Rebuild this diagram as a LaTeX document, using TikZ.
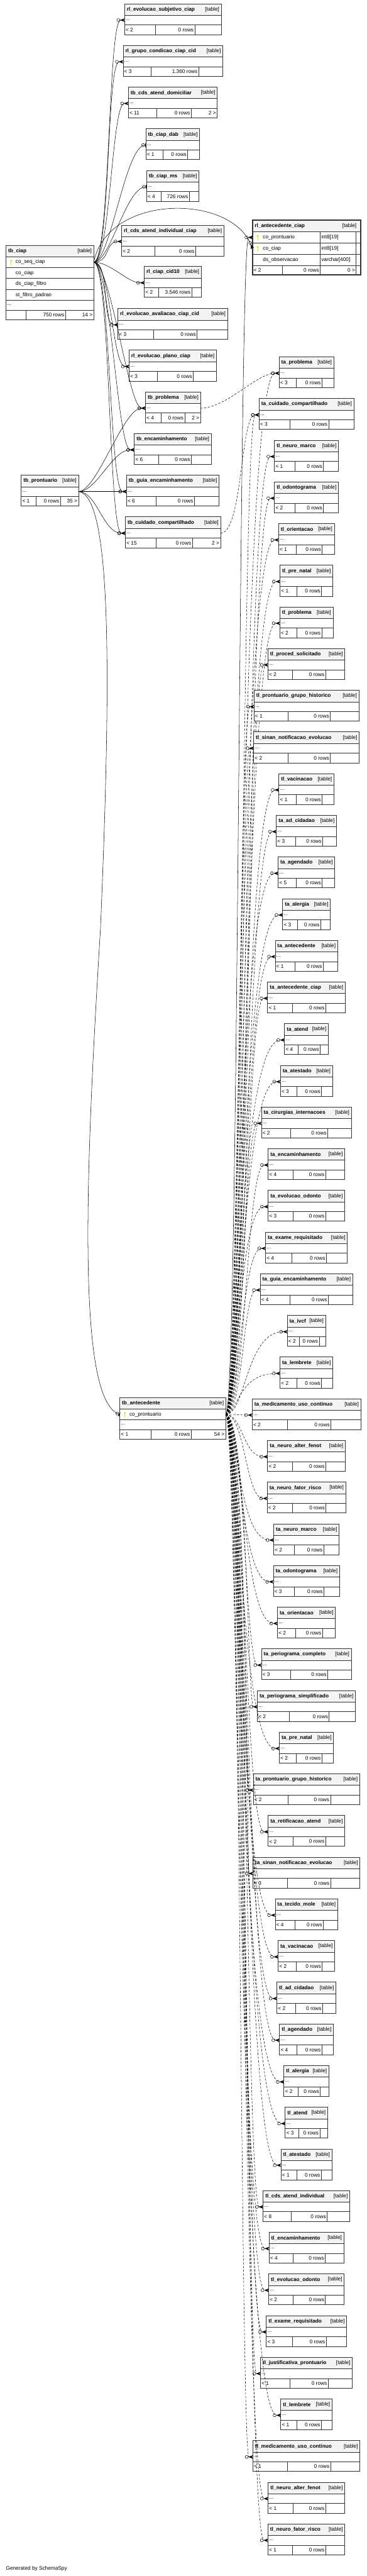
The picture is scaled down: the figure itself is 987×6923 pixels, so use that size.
\documentclass[tikz,border=0pt]{standalone}
\usepackage{fontspec}
\setmainfont{Liberation Sans}
\usetikzlibrary{arrows.meta}

\definecolor{tabline}{HTML}{333333}
\definecolor{hdrfill}{HTML}{F4F4F4}
\definecolor{keyyellow}{HTML}{E2E200}

\tikzset{
  hdrbox/.style={draw=tabline, fill=hdrfill, line width=1.1pt, minimum height=31, inner sep=0pt, outer sep=0pt},
  rowbox/.style={draw=tabline, fill=white, line width=1.1pt, minimum height=26, inner sep=0pt, outer sep=0pt},
  lbl/.style={inner sep=3pt, font=\fontsize{14}{16}\selectfont},
  ttl/.style={inner sep=3pt, font=\fontsize{14}{16}\selectfont\bfseries},
  divline/.style={draw=tabline, line width=1.1pt},
  fk/.style={line width=0.9pt, -{Circle[open,length=9pt,width=9pt]Stealth[reversed,length=12pt,width=9pt,inset=2.5pt]}},
  fkone/.style={line width=0.9pt, -{Circle[open,length=9pt,width=9pt]Bar[width=10pt,line width=2.4pt]}},
  implied/.style={fk, dash pattern=on 6pt off 4pt},
}

\newcommand{\ftcells}[3]{\def\fta{#1}\def\ftb{#2}\def\ftc{#3}}
% folded table: name, title, left, top, width, divider 1, divider 2, {footer cells}
\newcommand{\ertable}[8]{%
  \ftcells#8%
  \node[hdrbox, minimum width=#5, anchor=north west] (#1) at (#3,#4) {};
  \node[ttl, anchor=west] at ([xshift=3pt]#1.west) {#2};
  \node[lbl, anchor=east] at ([xshift=-2pt]#1.east) {[table]};
  \node[rowbox, minimum width=#5, anchor=north west] (#1-r) at (#1.south west) {};
  \node[lbl, anchor=west] at (#1-r.west) {...};
  \node[rowbox, minimum width=#5, anchor=north west] (#1-f) at (#1-r.south west) {};
  \draw[divline] (#6,#4+57) -- (#6,#4+83) (#7,#4+57) -- (#7,#4+83);
  \node[lbl, anchor=west] at (#1-f.west) {\fta};
  \node[lbl, anchor=east] at (#7,#4+70) {\ftb};
  \node[lbl, anchor=east] at (#1-f.east) {\ftc};
}
\newcommand{\pkkey}[1]{%
  \fill[keyyellow] ([xshift=14pt,yshift=4pt]#1.west) circle (2.8pt);
  \draw[keyyellow, line width=1.7pt] ([xshift=14pt,yshift=3pt]#1.west) -- ([xshift=14pt,yshift=-8pt]#1.west);
}

\begin{document}
\catcode`\_=12
\begin{tikzpicture}[x=1pt, y=-1pt]
  \fill[white] (0,0) rectangle (987,6923);
  \useasboundingbox (0,0) rectangle (987,6923);

  % tb_ciap
  \node[hdrbox, minimum width=236, anchor=north west] (ciap) at (16,659) {};
  \node[ttl, anchor=west] at ([xshift=3pt]ciap.west) {tb_ciap};
  \node[lbl, anchor=east] at ([xshift=-2pt]ciap.east) {[table]};
  \node[rowbox, minimum width=236, minimum height=29, anchor=north west] (ciap-pk) at (ciap.south west) {};
  \node[lbl, anchor=west] at ([xshift=23pt]ciap-pk.west) {co_seq_ciap};
  \pkkey{ciap-pk}
  \node[rowbox, minimum width=236, minimum height=29, anchor=north west] (ciap-2) at (ciap-pk.south west) {};
  \node[lbl, anchor=west] at ([xshift=23pt]ciap-2.west) {co_ciap};
  \node[rowbox, minimum width=236, minimum height=30, anchor=north west] (ciap-3) at (ciap-2.south west) {};
  \node[lbl, anchor=west] at ([xshift=23pt]ciap-3.west) {ds_ciap_filtro};
  \node[rowbox, minimum width=236, minimum height=29, anchor=north west] (ciap-4) at (ciap-3.south west) {};
  \node[lbl, anchor=west] at ([xshift=23pt]ciap-4.west) {st_filtro_padrao};
  \node[rowbox, minimum width=236, minimum height=27, anchor=north west] (ciap-r) at (ciap-4.south west) {};
  \node[lbl, anchor=west] at (ciap-r.west) {...};
  \node[rowbox, minimum width=236, minimum height=25, anchor=north west] (ciap-f) at (ciap-r.south west) {};
  \draw[divline] (70,834) -- (70,859) (176,834) -- (176,859);
  \node[lbl, anchor=east] at (176,846.5) {750 rows};
  \node[lbl, anchor=east] at (ciap-f.east) {14 >};

  % middle column
  \ertable{evosubj}{rl_evolucao_subjetivo_ciap}{335}{10}{260}{418}{524}{{< 2}{0 rows}{}}
  \ertable{grupocond}{rl_grupo_condicao_ciap_cid}{331}{122}{268}{407}{534.5}{{< 3}{1.360 rows}{}}
  \ertable{cdsdom}{tb_cds_atend_domiciliar}{345}{234}{239}{422}{514}{{< 11}{0 rows}{2 >}}
  \ertable{ciapdab}{tb_ciap_dab}{392}{346}{145}{438}{505}{{< 1}{0 rows}{}}
  \ertable{ciapms}{tb_ciap_ms}{394}{458}{141}{433}{509}{{< 4}{726 rows}{}}
  \ertable{cdsind}{rl_cds_atend_individual_ciap}{327}{605}{275}{416}{526.5}{{< 2}{0 rows}{}}
  \ertable{ciapcid}{rl_ciap_cid10}{388}{716}{153}{427}{515.6}{{< 2}{3.546 rows}{}}
  \ertable{evoaval}{rl_evolucao_avaliacao_ciap_cid}{317}{829}{295}{413}{530}{{< 3}{0 rows}{}}
  \ertable{evoplano}{rl_evolucao_plano_ciap}{347}{941}{235}{423}{520}{{< 3}{0 rows}{}}
  \ertable{problema}{tb_problema}{391}{1053}{148}{432.5}{496.7}{{< 4}{0 rows}{2 >}}
  \ertable{encam}{tb_encaminhamento}{361}{1165}{207}{427}{515}{{< 6}{0 rows}{}}
  \ertable{guia}{tb_guia_encaminhamento}{340}{1277}{249}{420}{522.5}{{< 6}{0 rows}{}}
  \ertable{cuidado}{tb_cuidado_compartilhado}{337}{1389}{256}{419.6}{517.3}{{< 15}{0 rows}{2 >}}

  \ertable{prontuario}{tb_prontuario}{57}{1277}{154}{97.6}{162.4}{{< 1}{0 rows}{35 >}}

  % rl_antecedente_ciap
  \node[hdrbox, minimum width=291, minimum height=32, anchor=north west] (antciap) at (679,591) {};
  \node[ttl, anchor=west] at ([xshift=3pt]antciap.west) {rl_antecedente_ciap};
  \node[lbl, anchor=east] at ([xshift=-8pt]antciap.east) {[table]};
  \node[rowbox, minimum width=291, minimum height=30, anchor=north west] (antciap-1) at (antciap.south west) {};
  \node[lbl, anchor=west] at ([xshift=25pt]antciap-1.west) {co_prontuario};
  \node[lbl, anchor=west] at (861,638) {int8[19]};
  \pkkey{antciap-1}
  \node[rowbox, minimum width=291, minimum height=30, anchor=north west] (antciap-2) at (antciap-1.south west) {};
  \node[lbl, anchor=west] at ([xshift=25pt]antciap-2.west) {co_ciap};
  \node[lbl, anchor=west] at (861,668) {int8[19]};
  \pkkey{antciap-2}
  \node[rowbox, minimum width=291, minimum height=30, anchor=north west] (antciap-3) at (antciap-2.south west) {};
  \node[lbl, anchor=west] at ([xshift=25pt]antciap-3.west) {ds_observacao};
  \node[lbl, anchor=west] at (861,698) {varchar[400]};
  \node[rowbox, minimum width=291, minimum height=26, anchor=north west] (antciap-f) at (antciap-3.south west) {};
  \draw[divline] (861,623) -- (861,713) (958,623) -- (958,739) (760,713) -- (760,739) (861,713) -- (861,739);
  \node[lbl, anchor=west] at (antciap-f.west) {< 2};
  \node[lbl, anchor=east] at (861,726) {0 rows};
  \node[lbl, anchor=east] at (958,726) {0 >};
  \draw[tabline, line width=3pt] (679,591) rectangle (970,739);

  % tb_antecedente
  \node[hdrbox, minimum width=285, anchor=north west] (antecedente) at (322,3756) {};
  \node[ttl, anchor=west] at ([xshift=3pt]antecedente.west) {tb_antecedente};
  \node[lbl, anchor=east] at ([xshift=-2pt]antecedente.east) {[table]};
  \node[rowbox, minimum width=285, minimum height=29, anchor=north west] (antecedente-pk) at (antecedente.south west) {};
  \node[lbl, anchor=west] at ([xshift=23pt]antecedente-pk.west) {co_prontuario};
  \pkkey{antecedente-pk}
  \node[rowbox, minimum width=285, anchor=north west] (antecedente-r) at (antecedente-pk.south west) {};
  \node[lbl, anchor=west] at (antecedente-r.west) {...};
  \node[rowbox, minimum width=285, anchor=north west] (antecedente-f) at (antecedente-r.south west) {};
  \draw[divline] (407,3842) -- (407,3868) (514,3842) -- (514,3868);
  \node[lbl, anchor=west] at (antecedente-f.west) {< 1};
  \node[lbl, anchor=east] at (514,3855) {0 rows};
  \node[lbl, anchor=east] at (antecedente-f.east) {54 >};

  % right column
  \foreach \tn/\tw/\tc [count=\i] in {
    ta_problema/147/3, ta_cuidado_compartilhado/255/3, tl_neuro_marco/172/1,
    tl_odontograma/172/2, tl_orientacao/150/1, tl_pre_natal/142/1,
    tl_problema/143/2, tl_proced_solicitado/207/2, tl_prontuario_grupo_historico/282/1,
    tl_sinan_notificacao_evolucao/284/2, tl_vacinacao/148/1, ta_ad_cidadao/162/3,
    ta_agendado/152/5, ta_alergia/128/3, ta_antecedente/168/1,
    ta_antecedente_ciap/209/1, ta_atend/118/4, ta_atestado/140/3,
    ta_cirurgias_internacoes/242/2, ta_encaminhamento/206/4, ta_evolucao_odonto/206/3,
    ta_exame_requisitado/220/4, ta_guia_encaminhamento/249/4, ta_ivcf/103/2,
    ta_lembrete/142/2, ta_medicamento_uso_continuo/292/2, ta_neuro_alter_fenot/209/2,
    ta_neuro_fator_risco/211/2, ta_neuro_marco/176/2, ta_odontograma/178/3,
    ta_orientacao/156/2, ta_periograma_completo/242/3, ta_periograma_simplificado/264/2,
    ta_pre_natal/146/2, ta_prontuario_grupo_historico/286/2, ta_retificacao_atend/206/2,
    ta_sinan_notificacao_evolucao/288/3, ta_tecido_mole/168/4, ta_vacinacao/152/2,
    tl_ad_cidadao/159/2, tl_agendado/145/4, tl_alergia/121/2,
    tl_atend/114/3, tl_atestado/137/1, tl_cds_atend_individual/233/8,
    tl_encaminhamento/201/4, tl_evolucao_odonto/203/2, tl_exame_requisitado/216/3,
    tl_justificativa_prontuario/247/1, tl_lembrete/138/1, tl_medicamento_uso_continuo/288/1,
    tl_neuro_alter_fenot/206/1, tl_neuro_fator_risco/207/1}{
    \pgfmathsetmacro\xl{824-\tw/2}
    \pgfmathsetmacro\ya{959+(\i-1)*112}
    \pgfmathsetmacro\da{\xl+32+(\tw-103)/3}
    \pgfmathsetmacro\db{\da+54+(\tw-103)/3}
    \pgfmathsetmacro\bx{638+mod(\i*7,29)}
    \ertable{t\i}{\tn}{\xl}{\ya}{\tw}{\da}{\db}{{< \tc}{0 rows}{}}
    \draw[implied] (antecedente-pk.east) .. controls (\bx,3801) and (\bx,\ya+44) .. (t\i-r.west);
  }

  % relationships
  \foreach \c in {evosubj,grupocond,cdsdom,cdsind,ciapcid,evoaval,evoplano,problema,encam,guia,cuidado}
    \draw[fk] (ciap-pk.east) .. controls +(45,0) and +(-45,0) .. (\c-r.west);
  \foreach \c in {ciapdab,ciapms}
    \draw[fkone] (ciap-pk.east) .. controls +(45,0) and +(-55,0) .. (\c-r.west);
  \draw[fk] (ciap-pk.east) .. controls (290,520) and (620,520) .. (antciap-2.west);
  \foreach \c in {problema,encam,guia,cuidado}
    \draw[fk] (prontuario-r.east) .. controls +(50,0) and +(-60,0) .. (\c-r.west);
  \draw[fkone] (prontuario-r.east) .. controls (300,1330) and (300,1800) .. (270,2500)
    .. controls (230,3150) and (205,3760) .. (antecedente-pk.west);
  \draw[fk] (antecedente-pk.east) .. controls (642,3801) and (642,638) .. (antciap-1.west);
  \draw[implied] (problema-r.east) .. controls +(70,0) and +(-60,0) .. (t1-r.west);
  \draw[implied] (cuidado-r.east) .. controls +(60,0) and +(-50,0) .. (t2-r.west);

  \node[lbl, anchor=west] (credit) at (13,6903) {Generated by SchemaSpy};
\end{tikzpicture}
\end{document}
